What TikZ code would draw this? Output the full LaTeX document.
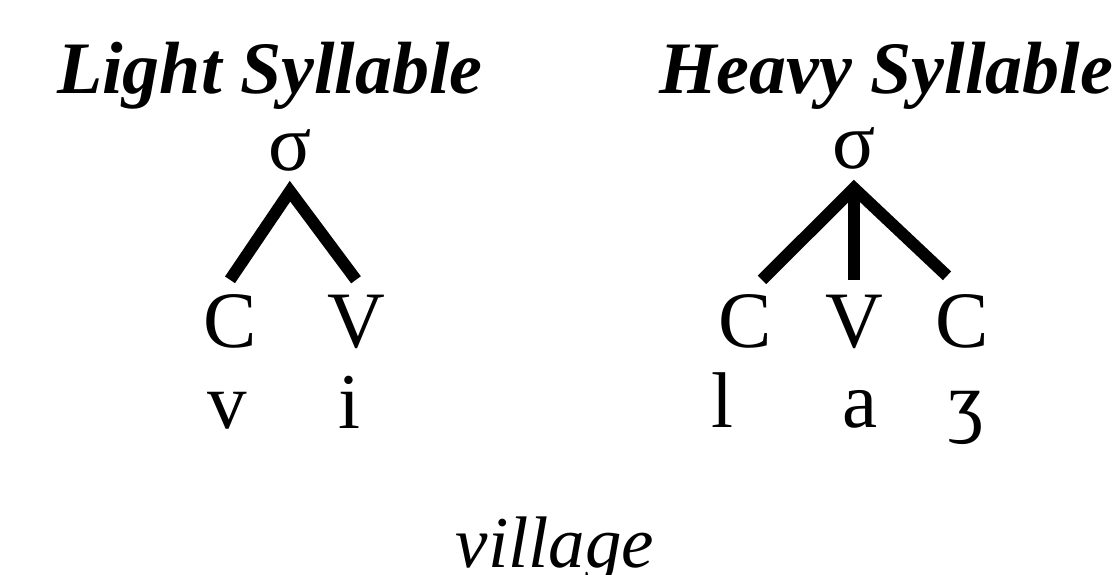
\documentclass[tikz,border=0pt]{standalone}
\usepackage{fontspec}
\setmainfont{Liberation Serif}
\begin{document}
\begin{tikzpicture}[x=1pt,y=-1pt,
  title/.style={font=\fontsize{74}{74}\selectfont\bfseries\itshape, inner sep=0pt, anchor=base west},
  sig/.style={font=\fontsize{80}{80}\selectfont, anchor=base, inner xsep=0pt, inner ysep=20pt, text depth=0pt},
  seg/.style={font=\fontsize{80}{80}\selectfont, anchor=base, inner xsep=0pt, inner ysep=15pt, text height=52pt},
  phon/.style={font=\fontsize{79}{79}\selectfont, anchor=base, inner sep=0pt},
  branch/.style={line width=12pt, line join=miter}]
\useasboundingbox (0,0) rectangle (1117,575);
\node[title] (lt) at (57,94){Light Syllable};
\node[title] (ht) at (659,94){Heavy Syllable};
% light: CV
\node[sig] (sl) at (290,171){σ};
\node[seg] (cl) at (230,347){C};
\node[seg] (vl) at (356,347){V};
\node[phon] (pv) at (227,428){v};
\node[phon] (pi) at (349,428){i};
\draw[branch] (cl.north) -- (sl.south) -- (vl.north);
% heavy: CVC
\node[sig] (sr) at (854,168){σ};
\node[seg] (cr1) at (745,347){C};
\node[seg] (vr) at (854,347){V};
\node[seg] (cr2) at (962,347){C};
\node[phon] (pl) at (722,427){l};
\node[phon] (pa) at (860,427){a};
\node[phon] (pz) at (966,427){ʒ};
\draw[branch] ([xshift=17pt]cr1.north) -- (sr.south) -- ([xshift=-15pt,yshift=4pt]cr2.north);
\draw[branch] (sr.south) -- (vr.north);
\node[font=\fontsize{73}{73}\selectfont\itshape, anchor=base, inner sep=0pt] (gl) at (555,567){village};
\end{tikzpicture}
\end{document}
